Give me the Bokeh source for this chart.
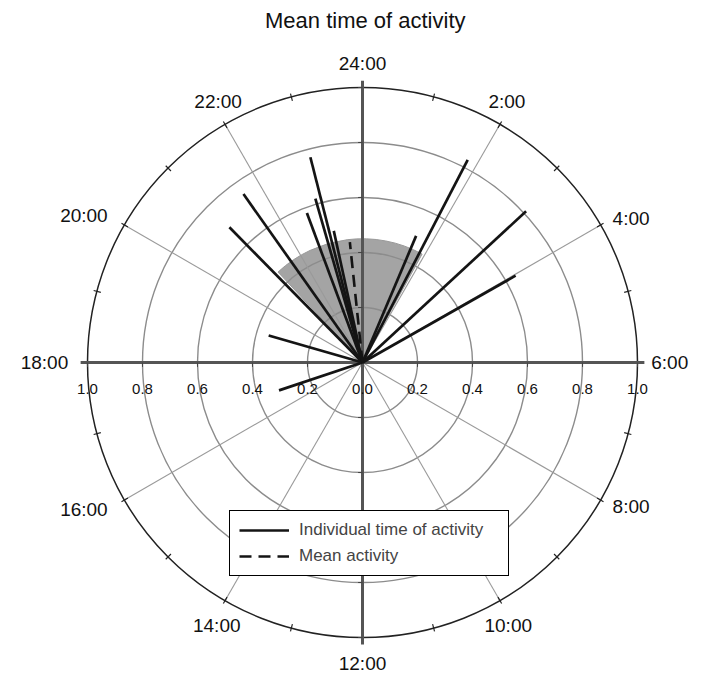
import numpy as np
from bokeh.plotting import figure
from bokeh.models import ColumnDataSource, Legend, LegendItem
from bokeh.embed import file_html
from bokeh.resources import INLINE
from bokeh.core.properties import value

# ---------------- data ----------------
ind_hours = [23.05, 21.65, 21.03, 22.93, 22.64, 23.18, 19.07, 16.77, 1.53, 1.83, 3.15, 4.03]
ind_radius = [0.77, 0.75, 0.69, 0.62, 0.58, 0.49, 0.355, 0.32, 0.50, 0.83, 0.81, 0.64]
mean_hour = 23.6
mean_radius = 0.44
spread_start_hour = 21.13
spread_end_hour = 25.92
spread_radius = 0.45
ring_values = [0.2, 0.4, 0.6, 0.8]
outer_ring = 1.0
hour_label_hours = [0, 2, 4, 6, 8, 10, 12, 14, 16, 18, 20, 22]
hour_labels = ["24:00", "2:00", "4:00", "6:00", "8:00", "10:00", "12:00",
               "14:00", "16:00", "18:00", "20:00", "22:00"]
tick_values = [-1.0, -0.8, -0.6, -0.4, -0.2, 0.0, 0.2, 0.4, 0.6, 0.8, 1.0]
tick_labels = ["1.0", "0.8", "0.6", "0.4", "0.2", "0.0", "0.2", "0.4", "0.6", "0.8", "1.0"]
title_text = "Mean time of activity"

FONT = value("Liberation Sans")


def theta(h):
    return np.pi / 2 - np.asarray(h, dtype=float) * 2 * np.pi / 24


W, H = 700, 677
S = 275.0
cx, cy = 362.0, 362.0
p = figure(width=W, height=H, output_backend="svg", toolbar_location=None,
           x_range=(-cx / S, (W - cx) / S), y_range=(-(H - cy) / S, cy / S),
           x_axis_type=None, y_axis_type=None, min_border=0)
p.grid.visible = False
p.outline_line_color = None
p.background_fill_color = "white"

# spread wedge
p.wedge(x=0, y=0, radius=spread_radius,
        start_angle=float(theta(spread_end_hour)), end_angle=float(theta(spread_start_hour)),
        direction="anticlock", fill_color="#a4a4a4", line_color="#999999", line_width=1)

# rings
p.circle(x=[0] * len(ring_values), y=[0] * len(ring_values), radius=ring_values,
         fill_color=None, line_color="#8c8c8c", line_width=1.4)

# radial grid lines every 2 hours (minor)
minor_h = [h for h in hour_label_hours if h % 6 != 0]
t = theta(minor_h)
p.segment(x0=0, y0=0, x1=np.cos(t) * outer_ring, y1=np.sin(t) * outer_ring,
          line_color="#9a9a9a", line_width=1.1)

# outer circle
p.circle(x=[0], y=[0], radius=[outer_ring], fill_color=None, line_color="#222222", line_width=1.5)

# hour ticks on outer circle
all_h = list(range(24))
t = theta(all_h)
p.segment(x0=np.cos(t) * 0.985, y0=np.sin(t) * 0.985, x1=np.cos(t) * 1.012, y1=np.sin(t) * 1.012,
          line_color="#222222", line_width=1.2)

# main axes
major_h = [0, 6, 12, 18]
t = theta(major_h)
p.segment(x0=0, y0=0, x1=np.cos(t) * 1.025, y1=np.sin(t) * 1.025,
          line_color="#555555", line_width=3)

# small ticks on axes at ring positions
tv = np.array(ring_values + [outer_ring])
p.segment(x0=np.r_[tv, -tv], y0=0, x1=np.r_[tv, -tv], y1=-0.016, line_color="#444444", line_width=1)
p.segment(x0=0, y0=np.r_[tv, -tv], x1=-0.016, y1=np.r_[tv, -tv], line_color="#444444", line_width=1)

# individual lines
t = theta(ind_hours)
r = np.asarray(ind_radius)
src = ColumnDataSource(dict(xs=[[0, float(np.cos(a) * rr)] for a, rr in zip(t, r)],
                            ys=[[0, float(np.sin(a) * rr)] for a, rr in zip(t, r)]))
r_ind = p.multi_line(xs="xs", ys="ys", source=src, line_color="#141414", line_width=2.7)

# mean line
tm = float(theta(mean_hour))
r_mean = p.line(x=[0, np.cos(tm) * mean_radius], y=[0, np.sin(tm) * mean_radius],
                line_color="#141414", line_width=2.6, line_dash="12 7")

# hour labels
groups = {}
for h, lab in zip(hour_label_hours, hour_labels):
    a = h * 2 * np.pi / 24
    s, c = np.sin(a), np.cos(a)
    if abs(s) < 0.6:
        align = "center"
        base = "bottom" if c > 0 else "top"
    else:
        align = "left" if s > 0 else "right"
        base = "middle"
    rad = 1.05
    if c < -0.6:
        rad = 1.06
    if s < -0.6:
        rad = 1.07
    if c < -0.99:
        rad = 1.055
    x = np.sin(a) * rad
    y = np.cos(a) * rad
    groups.setdefault((align, base), []).append((x, y, lab))
for (align, base), items in groups.items():
    p.text(x=[i[0] for i in items], y=[i[1] for i in items], text=[i[2] for i in items],
           text_align=align, text_baseline=base, text_font=FONT,
           text_font_size="19px", text_color="#111111")

# radial value tick labels along horizontal axis
p.text(x=tick_values, y=[-0.095] * len(tick_values), text=tick_labels,
       text_align="center", text_baseline="middle", text_font=FONT,
       text_font_size="15px", text_color="#111111")

# title
p.text(x=[0.01], y=[1.245], text=[title_text], text_align="center", text_baseline="middle",
       text_font=FONT, text_font_size="22px", text_color="#111111")

legend = Legend(items=[LegendItem(label="Individual time of activity", renderers=[r_ind]),
                       LegendItem(label="Mean activity", renderers=[r_mean])],
                location=(229, H - 576), glyph_width=50, glyph_height=20, label_standoff=10,
                padding=9, spacing=6, label_text_font_size="17px",
                label_text_font="Liberation Sans", label_height=20, label_width=200,
                border_line_color="black", border_line_width=1, border_line_alpha=1,
                background_fill_color="white", background_fill_alpha=1, margin=0)
p.add_layout(legend)

open("out.html", "w").write(file_html(p, INLINE))
